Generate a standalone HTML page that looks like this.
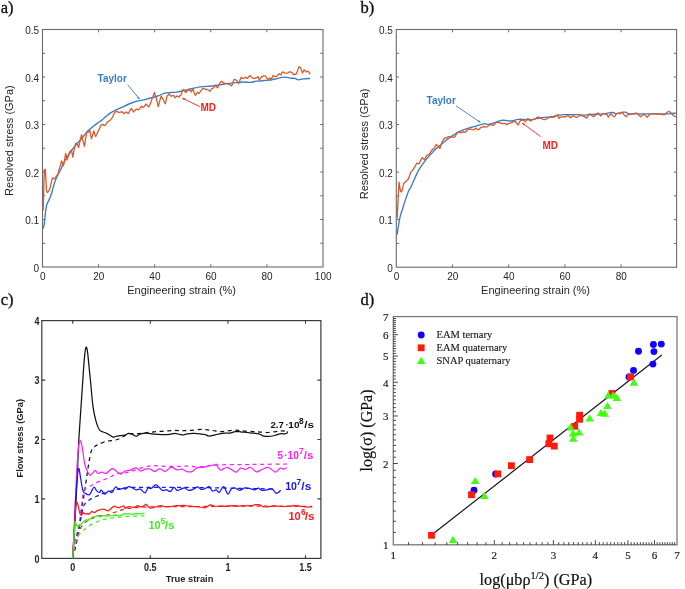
<!DOCTYPE html>
<html><head><meta charset="utf-8"><title>Figure</title>
<style>html,body{margin:0;padding:0;background:#fff;width:685px;height:589px;overflow:hidden}svg{display:block;will-change:transform}</style>
</head><body>
<svg width="685" height="589" viewBox="0 0 685 589">
<rect width="685" height="589" fill="#fff"/>
<text x="0.7" y="12.7" font-family="Liberation Serif, serif" font-size="16.5" fill="#111" stroke="#111" stroke-width="0.35">a)</text>
<text x="360.4" y="12.7" font-family="Liberation Serif, serif" font-size="16.5" fill="#111" stroke="#111" stroke-width="0.35">b)</text>
<text x="0.7" y="304.6" font-family="Liberation Serif, serif" font-size="16.5" fill="#111" stroke="#111" stroke-width="0.35">c)</text>
<text x="360.4" y="304.6" font-family="Liberation Serif, serif" font-size="16.5" fill="#111" stroke="#111" stroke-width="0.35">d)</text>
<rect x="42.5" y="29.5" width="280.5" height="237.5" fill="none" stroke="#6a6a6a" stroke-width="1.1"/>
<path d="M42.5 243.25H45.3 M323 243.25H320.2 M42.5 219.5H45.3 M323 219.5H320.2 M42.5 195.75H45.3 M323 195.75H320.2 M42.5 172H45.3 M323 172H320.2 M42.5 148.25H45.3 M323 148.25H320.2 M42.5 124.5H45.3 M323 124.5H320.2 M42.5 100.75H45.3 M323 100.75H320.2 M42.5 77H45.3 M323 77H320.2 M42.5 53.25H45.3 M323 53.25H320.2 M98.6 267V264.2 M98.6 29.5V32.3 M154.7 267V264.2 M154.7 29.5V32.3 M210.8 267V264.2 M210.8 29.5V32.3 M266.9 267V264.2 M266.9 29.5V32.3 " stroke="#6a6a6a" stroke-width="1" fill="none"/>
<text x="39.1" y="271.6" font-family="Liberation Sans, sans-serif" font-size="10" fill="#262626" text-anchor="end">0</text>
<text x="39.1" y="224.1" font-family="Liberation Sans, sans-serif" font-size="10" fill="#262626" text-anchor="end">0.1</text>
<text x="39.1" y="176.6" font-family="Liberation Sans, sans-serif" font-size="10" fill="#262626" text-anchor="end">0.2</text>
<text x="39.1" y="129.1" font-family="Liberation Sans, sans-serif" font-size="10" fill="#262626" text-anchor="end">0.3</text>
<text x="39.1" y="81.6" font-family="Liberation Sans, sans-serif" font-size="10" fill="#262626" text-anchor="end">0.4</text>
<text x="39.1" y="34.1" font-family="Liberation Sans, sans-serif" font-size="10" fill="#262626" text-anchor="end">0.5</text>
<text x="42.7" y="280.2" font-family="Liberation Sans, sans-serif" font-size="10" fill="#262626" text-anchor="middle">0</text>
<text x="98.8" y="280.2" font-family="Liberation Sans, sans-serif" font-size="10" fill="#262626" text-anchor="middle">20</text>
<text x="154.9" y="280.2" font-family="Liberation Sans, sans-serif" font-size="10" fill="#262626" text-anchor="middle">40</text>
<text x="211" y="280.2" font-family="Liberation Sans, sans-serif" font-size="10" fill="#262626" text-anchor="middle">60</text>
<text x="267.1" y="280.2" font-family="Liberation Sans, sans-serif" font-size="10" fill="#262626" text-anchor="middle">80</text>
<text x="323.2" y="280.2" font-family="Liberation Sans, sans-serif" font-size="10" fill="#262626" text-anchor="middle">100</text>
<text x="181.6" y="293.6" font-family="Liberation Sans, sans-serif" font-size="11" fill="#262626" text-anchor="middle">Engineering strain (%)</text>
<text transform="translate(12.6 140.6) rotate(-90)" font-family="Liberation Sans, sans-serif" font-size="11" fill="#262626" text-anchor="middle">Resolved stress (GPa)</text>
<rect x="396.3" y="29.5" width="280.3" height="237.7" fill="none" stroke="#6a6a6a" stroke-width="1.1"/>
<path d="M396.3 243.43H399.1 M676.6 243.43H673.8 M396.3 219.66H399.1 M676.6 219.66H673.8 M396.3 195.89H399.1 M676.6 195.89H673.8 M396.3 172.12H399.1 M676.6 172.12H673.8 M396.3 148.35H399.1 M676.6 148.35H673.8 M396.3 124.58H399.1 M676.6 124.58H673.8 M396.3 100.81H399.1 M676.6 100.81H673.8 M396.3 77.04H399.1 M676.6 77.04H673.8 M396.3 53.27H399.1 M676.6 53.27H673.8 M452.5 267.2V264.4 M452.5 29.5V32.3 M508.7 267.2V264.4 M508.7 29.5V32.3 M564.9 267.2V264.4 M564.9 29.5V32.3 M621.1 267.2V264.4 M621.1 29.5V32.3 " stroke="#6a6a6a" stroke-width="1" fill="none"/>
<text x="392.9" y="271.8" font-family="Liberation Sans, sans-serif" font-size="10" fill="#262626" text-anchor="end">0</text>
<text x="392.9" y="224.26" font-family="Liberation Sans, sans-serif" font-size="10" fill="#262626" text-anchor="end">0.1</text>
<text x="392.9" y="176.72" font-family="Liberation Sans, sans-serif" font-size="10" fill="#262626" text-anchor="end">0.2</text>
<text x="392.9" y="129.18" font-family="Liberation Sans, sans-serif" font-size="10" fill="#262626" text-anchor="end">0.3</text>
<text x="392.9" y="81.64" font-family="Liberation Sans, sans-serif" font-size="10" fill="#262626" text-anchor="end">0.4</text>
<text x="392.9" y="34.1" font-family="Liberation Sans, sans-serif" font-size="10" fill="#262626" text-anchor="end">0.5</text>
<text x="396.5" y="280.4" font-family="Liberation Sans, sans-serif" font-size="10" fill="#262626" text-anchor="middle">0</text>
<text x="452.7" y="280.4" font-family="Liberation Sans, sans-serif" font-size="10" fill="#262626" text-anchor="middle">20</text>
<text x="508.9" y="280.4" font-family="Liberation Sans, sans-serif" font-size="10" fill="#262626" text-anchor="middle">40</text>
<text x="565.1" y="280.4" font-family="Liberation Sans, sans-serif" font-size="10" fill="#262626" text-anchor="middle">60</text>
<text x="621.3" y="280.4" font-family="Liberation Sans, sans-serif" font-size="10" fill="#262626" text-anchor="middle">80</text>
<text x="535.5" y="293.8" font-family="Liberation Sans, sans-serif" font-size="11" fill="#262626" text-anchor="middle">Engineering strain (%)</text>
<text transform="translate(368.3 143.9) rotate(-90)" font-family="Liberation Sans, sans-serif" font-size="11" fill="#262626" text-anchor="middle">Resolved stress (GPa)</text>
<path d="M43.2 228.7 C43.38 227.85 43.92 226.37 44.3 223.6 C44.68 220.83 45.07 215.33 45.5 212.1 C45.93 208.87 46.25 206.37 46.9 204.2 C47.55 202.03 48.62 200.92 49.4 199.1 C50.18 197.28 50.77 195.95 51.6 193.3 C52.43 190.65 53.45 186.08 54.4 183.2 C55.35 180.32 56.27 178.2 57.3 176 C58.33 173.8 59.43 172.38 60.6 170 C61.77 167.62 62.9 164.32 64.3 161.7 C65.7 159.08 67.43 156.63 69 154.3 C70.57 151.97 72.13 149.73 73.7 147.7 C75.27 145.67 76.85 143.88 78.4 142.1 C79.95 140.32 81.45 138.87 83 137 C84.55 135.13 86.13 132.55 87.7 130.9 C89.27 129.25 90.83 128.35 92.4 127.1 C93.97 125.85 95.55 124.57 97.1 123.4 C98.65 122.23 100.38 121.12 101.7 120.1 C103.02 119.08 103.47 118.53 105 117.3 C106.53 116.07 108.22 114.32 110.9 112.7 C113.58 111.08 117.45 109.3 121.1 107.6 C124.75 105.9 128.67 103.88 132.8 102.5 C136.93 101.12 141.77 100.38 145.9 99.3 C150.03 98.22 154.25 97.08 157.6 96 C160.95 94.92 162.82 93.43 166 92.8 C169.18 92.17 172.97 92.75 176.7 92.2 C180.43 91.65 184.52 90.4 188.4 89.5 C192.28 88.6 196.12 87.38 200 86.8 C203.88 86.22 207.8 86.42 211.7 86 C215.6 85.58 219.5 84.87 223.4 84.3 C227.3 83.73 231.55 82.98 235.1 82.6 C238.65 82.22 242.13 82.03 244.7 82 C247.27 81.97 248.62 82.53 250.5 82.4 C252.38 82.27 254.33 81.43 256 81.2 C257.67 80.97 259.17 81.12 260.5 81 C261.83 80.88 262.55 80.65 264 80.5 C265.45 80.35 267.37 80.35 269.2 80.1 C271.03 79.85 272.47 79.48 275 79 C277.53 78.52 281.87 77.35 284.4 77.2 C286.93 77.05 288.45 77.9 290.2 78.1 C291.95 78.3 293.53 78.12 294.9 78.4 C296.27 78.68 297.03 79.72 298.4 79.8 C299.77 79.88 301.15 79.13 303.1 78.9 C305.05 78.67 308.93 78.48 310.1 78.4" stroke="#3a7cc6" stroke-width="1.35" fill="none" stroke-linejoin="round"/>
<path d="M43.2 210.6 L43.75 189.74 L44.3 169.5 L44.8 169.55 L45.3 169.5 L45.9 179.79 L46.5 190.4 L47 191.62 L47.5 192.6 L48.8 190.6 L50.1 188.3 L51.2 182.73 L52.3 178.2 L53.35 177.97 L54.4 178.9 L55.15 178.2 L55.9 176.7 L56.95 175.31 L58 174.5 L58.6 171.53 L59.2 169.2 L60.35 165.59 L61.5 160.8 L62.45 163.31 L63.4 165.9 L64.55 160 L65.7 153.3 L66.4 156.57 L67.1 159.9 L68.05 156.77 L69 153.3 L70.2 151.23 L71.4 150 L72.15 153.71 L72.9 157.1 L73.3 154.69 L73.7 151.4 L74.65 147.48 L75.6 143.5 L76.3 143.54 L77 143 L77.8 145.56 L78.6 147.7 L80.1 140.63 L81.6 134.6 L82.1 137.26 L82.6 139.3 L83.5 142.91 L84.4 146.3 L85.6 138.81 L86.8 131.8 L87.5 131.49 L88.2 132.3 L89 131.59 L89.8 130 L90.6 134.37 L91.4 138.8 L92.6 135.11 L93.8 130.9 L94.75 134.15 L95.7 136.5 L96.85 134.21 L98 131.4 L99.4 128.86 L100.8 125.3 L101.75 124.67 L102.7 124.3 L103.85 125.31 L105 125.6 L106.5 123.48 L108 121.5 L109.8 120.57 L111.6 118.6 L112.7 116.85 L113.8 114.2 L115.1 112.27 L116.4 111.3 L117.65 111.56 L118.9 112.7 L120.75 112.01 L122.6 112 L123.3 113.31 L124 113.5 L125.1 112.67 L126.2 112 L127.3 112.9 L128.4 113.5 L129.85 110.71 L131.3 108.4 L132.4 110.21 L133.5 112 L134.95 110.41 L136.4 109.1 L137.5 109.27 L138.6 109.8 L140.05 108.1 L141.5 106.2 L142.25 107 L143 107.6 L144.45 106.29 L145.9 104 L147.35 105.67 L148.8 106.9 L150.3 103.76 L151.8 99.6 L153.1 96.38 L154.4 92.3 L155.25 95.44 L156.1 97.4 L157.2 102.21 L158.3 106.6 L159.75 100.9 L161.2 96 L162.3 98.23 L163.4 99.6 L164.35 102.26 L165.3 103.8 L166.05 100.64 L166.8 96.5 L167.95 95.33 L169.1 94 L170.25 95.41 L171.4 96.3 L172.6 95.6 L173.8 95.6 L174.65 97.05 L175.5 97.7 L176.1 96.94 L176.7 96 L177.85 96.29 L179 97.1 L179.9 95.73 L180.8 95.4 L181.65 93.17 L182.5 90.1 L183.1 90.39 L183.7 89.5 L184.55 90.46 L185.4 92.4 L186.6 91.61 L187.8 90.1 L188.65 89.99 L189.5 90.1 L190.4 90.58 L191.3 91.9 L192.15 90.35 L193 89.3 L194.2 92.67 L195.4 95.4 L196.25 94.35 L197.1 92.4 L198 92.45 L198.9 93.6 L200.65 91.39 L202.4 88.9 L203.55 88.35 L204.7 88.9 L205.85 89.46 L207 89.5 L208.5 90.2 L210 91.3 L210.85 90.31 L211.7 88.4 L212.9 88.38 L214.1 87.2 L214.95 86.06 L215.8 84.9 L216.7 86.95 L217.6 87.8 L218.75 85.22 L219.9 83.1 L221.05 81.74 L222.2 81.4 L222.8 82.67 L223.4 83.7 L224.55 83.14 L225.7 83.7 L227.15 83.64 L228.6 84.3 L230.1 85.04 L231.6 86 L232.75 82.93 L233.9 79.6 L235.05 79.49 L236.2 80.2 L237.4 81.4 L238.6 83.7 L239.3 82.34 L240 80.1 L240.6 78.43 L241.2 77.2 L242.05 78.35 L242.9 78.4 L244.1 78.28 L245.3 77.2 L246.45 77.65 L247.6 78.4 L248.75 76.85 L249.9 75.4 L251.1 76.62 L252.3 77.8 L253.75 78.27 L255.2 78.4 L256.65 77.61 L258.1 76.6 L258.7 78.42 L259.3 80.1 L260.45 78.49 L261.6 76.6 L262.5 76.83 L263.4 76 L264.25 75.91 L265.1 75.8 L266.55 77.57 L268 79.5 L268.9 78.91 L269.8 77.8 L270.35 78.64 L270.9 80.1 L272.1 77.51 L273.3 75.4 L274.75 76.57 L276.2 76.6 L277.65 75.18 L279.1 73.7 L280 74.36 L280.9 74.9 L281.75 72.81 L282.6 71.9 L283.5 72.4 L284.4 73.1 L286.15 73.2 L287.9 73.1 L289.05 71.92 L290.2 71.9 L291.1 72.34 L292 72.5 L292.85 73.86 L293.7 74.9 L294.9 74.07 L296.1 74.3 L297.55 70.65 L299 66.7 L299.85 67.21 L300.7 67.8 L301.6 70.67 L302.5 73.1 L303.35 71.17 L304.2 69.6 L305.1 71 L306 71.9 L306.85 71.79 L307.7 71.1 L308.9 72.13 L310.1 74.3" stroke="#d75a2b" stroke-width="1.3" fill="none" stroke-linejoin="round"/>
<text x="97.6" y="81.6" font-family="Liberation Sans, sans-serif" font-size="10" font-weight="bold" fill="#3a7cc6">Taylor</text>
<path d="M127.6 84.6 L139.6 99.3" stroke="#3a7cc6" stroke-width="0.9"/>
<text x="200.4" y="110.8" font-family="Liberation Sans, sans-serif" font-size="10" font-weight="bold" fill="#ff1e1e">MD</text>
<path d="M199.9 106.6 L182.3 98.2" stroke="#ff1e1e" stroke-width="0.9"/>
<path d="M397.1 234.7 C397.35 233.05 398.05 227.98 398.6 224.8 C399.15 221.62 399.77 218.15 400.4 215.6 C401.03 213.05 401.68 211.78 402.4 209.5 C403.12 207.22 403.68 204.95 404.7 201.9 C405.72 198.85 407.48 193.62 408.5 191.2 C409.52 188.78 409.92 189.18 410.8 187.4 C411.68 185.62 412.53 183.3 413.8 180.5 C415.07 177.7 416.87 173.4 418.4 170.6 C419.93 167.8 421.47 165.87 423 163.7 C424.53 161.53 426.23 159.25 427.6 157.6 C428.97 155.95 429.83 155.22 431.2 153.8 C432.57 152.38 434.05 150.75 435.8 149.1 C437.55 147.45 439.75 145.55 441.7 143.9 C443.65 142.25 445.55 140.67 447.5 139.2 C449.45 137.73 451.45 136.37 453.4 135.1 C455.35 133.83 457.27 132.57 459.2 131.6 C461.13 130.63 463.05 129.98 465 129.3 C466.95 128.62 468.95 128.08 470.9 127.5 C472.85 126.92 474.57 126.42 476.7 125.8 C478.83 125.18 481.75 124.05 483.7 123.8 C485.65 123.55 486.83 124.4 488.4 124.3 C489.97 124.2 491.15 123.82 493.1 123.2 C495.05 122.58 498.17 121.08 500.1 120.6 C502.03 120.12 502.78 120.23 504.7 120.3 C506.62 120.37 509.37 121.15 511.6 121 C513.83 120.85 515.92 119.67 518.1 119.4 C520.28 119.13 522.5 119.35 524.7 119.4 C526.9 119.45 529.12 119.87 531.3 119.7 C533.48 119.53 535.62 118.8 537.8 118.4 C539.98 118 542.2 117.57 544.4 117.3 C546.6 117.03 548.8 117.1 551 116.8 C553.2 116.5 555.42 115.85 557.6 115.5 C559.78 115.15 561.92 114.83 564.1 114.7 C566.28 114.57 568.5 114.7 570.7 114.7 C572.9 114.7 575.12 114.63 577.3 114.7 C579.48 114.77 581.62 115.13 583.8 115.1 C585.98 115.07 587.18 114.72 590.4 114.5 C593.62 114.28 600 114.08 603.1 113.8 C606.2 113.52 607.35 113.02 609 112.8 C610.65 112.58 611.78 112.33 613 112.5 C614.22 112.67 614.97 113.78 616.3 113.8 C617.63 113.82 619.47 112.88 621 112.6 C622.53 112.32 624.1 111.9 625.5 112.1 C626.9 112.3 626.55 113.52 629.4 113.8 C632.25 114.08 638.22 113.8 642.6 113.8 C646.98 113.8 651.33 113.8 655.7 113.8 C660.07 113.8 665.42 113.92 668.8 113.8 C672.18 113.68 674.8 113.22 676 113.1" stroke="#3a7cc6" stroke-width="1.35" fill="none" stroke-linejoin="round"/>
<path d="M397.1 218.7 L397.7 207.37 L398.3 195.8 L398.65 189.19 L399 182.1 L399.7 186.6 L400.4 190.5 L401 191.69 L401.6 192 L402.75 187.64 L403.9 182.8 L405.05 182.47 L406.2 181.3 L407.35 179.68 L408.5 179 L409.65 175.52 L410.8 172.1 L412.3 170.64 L413.8 168.3 L415.35 165.8 L416.9 163 L418.05 163.75 L419.2 163.7 L420.7 160.26 L422.2 157.6 L423.35 158.72 L424.5 159.9 L425.65 157.35 L426.8 155.3 L427.65 154.94 L428.5 154.5 L429.25 153.92 L430 153.2 L431.15 150.96 L432.3 149.7 L433.2 148.82 L434.1 148.5 L435.25 146.28 L436.4 144.5 L437.3 145.77 L438.2 146.2 L439.05 147.62 L439.9 148.5 L441.1 144.66 L442.3 141.5 L443.15 140.35 L444 138.6 L445.2 137.94 L446.4 138 L447.25 137.42 L448.1 136.6 L449.25 136.63 L450.4 137.4 L451.9 136.9 L453.4 137.4 L454.25 137.22 L455.1 136.3 L456.55 133.96 L458 132.2 L459.45 132.22 L460.9 132.8 L462.1 132.68 L463.3 131.6 L464.45 132.27 L465.6 132.2 L467.05 130.24 L468.5 128.7 L470 129.46 L471.5 129.3 L472.65 129.64 L473.8 129.9 L474.65 129.18 L475.5 128.1 L476.7 128.7 L477.9 129.9 L479.35 129.14 L480.8 127.5 L482.25 127.14 L483.7 126.4 L484.9 127.12 L486.1 126.9 L487.25 126.74 L488.4 125.8 L489.55 125 L490.7 124.6 L492.15 124.86 L493.6 125.4 L495.1 123.52 L496.6 122.3 L497.75 122.1 L498.9 122.6 L500.35 122.77 L501.8 123.8 L503.25 123.4 L504.7 123.4 L505.85 124.15 L507 124.7 L508.3 123.55 L509.6 123.4 L510.9 123.03 L512.2 122.3 L513.55 121.64 L514.9 121.3 L516.5 122.96 L518.1 125 L519.1 123.22 L520.1 120.8 L521.4 120.38 L522.7 120 L524.05 120.67 L525.4 121.7 L526.7 120.03 L528 118.4 L529.3 119.9 L530.6 121 L532.25 119.76 L533.9 119.4 L535.55 118.73 L537.2 117.1 L539.15 117.27 L541.1 118.4 L542.75 119.3 L544.4 119.7 L546.4 119.04 L548.4 117.7 L550.35 117.02 L552.3 117.3 L553.95 117.14 L555.6 116.4 L556.6 115.42 L557.6 114.7 L558.25 116.63 L558.9 118.4 L560.2 117.26 L561.5 117.1 L563.45 116.65 L565.4 117.1 L566.75 115.98 L568.1 115.5 L569.4 117.06 L570.7 117.7 L572 116.45 L573.3 115.8 L574.95 116.81 L576.6 117.3 L578.25 116.63 L579.9 115.1 L581.2 115.74 L582.5 115.5 L584.5 116.64 L586.5 118.1 L588.1 115.8 L589.7 113.8 L591.5 115.32 L593.3 116.8 L595.6 115.13 L597.9 112.9 L599.2 114.06 L600.5 116 L601.8 114.95 L603.1 113.4 L605.1 114.25 L607.1 114.5 L607.75 116.16 L608.4 117.1 L609.7 114.99 L611 113.8 L612.65 115.75 L614.3 116.8 L615.95 114.54 L617.6 113.1 L618.9 113.29 L620.2 113.8 L621.2 113.06 L622.2 112.1 L624.15 114.87 L626.1 116.8 L627.45 115.34 L628.8 114.2 L630.4 114.42 L632 113.8 L634.3 113.5 L636.6 113.1 L638.6 114.76 L640.6 116.8 L642.25 115.32 L643.9 114.2 L645.55 115.43 L647.2 117.3 L648.8 115.33 L650.4 114.2 L652.4 113.65 L654.4 113.8 L657 113.99 L659.6 113.8 L662.25 114.65 L664.9 114.5 L666.85 112.51 L668.8 111.2 L670.45 112.25 L672.1 114.2 L674 115.99 L675.9 116.8" stroke="#d75a2b" stroke-width="1.3" fill="none" stroke-linejoin="round"/>
<text x="426.6" y="103.6" font-family="Liberation Sans, sans-serif" font-size="10" font-weight="bold" fill="#3a7cc6">Taylor</text>
<path d="M456 105.8 L480.4 122.4" stroke="#3a7cc6" stroke-width="0.9"/>
<text x="542.5" y="149.3" font-family="Liberation Sans, sans-serif" font-size="10" font-weight="bold" fill="#ff1e1e">MD</text>
<path d="M540.6 136.6 L522.1 123" stroke="#ff1e1e" stroke-width="0.9"/>
<path d="M139.6 99.3L137.1 97.98L138.81 96.59Z" fill="#3a7cc6"/>
<path d="M182.3 98.2L185.12 98.33L184.17 100.31Z" fill="#ff1e1e"/>
<path d="M480.4 122.4L477.63 121.85L478.87 120.03Z" fill="#3a7cc6"/>
<path d="M522.1 123L524.85 123.65L523.54 125.43Z" fill="#ff1e1e"/>
<rect x="41.8" y="320.6" width="279.1" height="237.8" fill="none" stroke="#3a3a3a" stroke-width="1.2"/>
<path d="M72.7 558.4V555.2 M72.7 320.6V323.8 M150.3 558.4V555.2 M150.3 320.6V323.8 M227.9 558.4V555.2 M227.9 320.6V323.8 M305.5 558.4V555.2 M305.5 320.6V323.8 M41.8 498.9H45.2 M320.9 498.9H317.5 M41.8 439.5H45.2 M320.9 439.5H317.5 M41.8 380.1H45.2 M320.9 380.1H317.5 " stroke="#3a3a3a" stroke-width="1.1" fill="none"/>
<text transform="translate(39.6 562.6) scale(0.9 1)" font-family="Liberation Sans, sans-serif" font-size="10" font-weight="bold" fill="#222" text-anchor="end">0</text>
<text transform="translate(39.6 503.2) scale(0.9 1)" font-family="Liberation Sans, sans-serif" font-size="10" font-weight="bold" fill="#222" text-anchor="end">1</text>
<text transform="translate(39.6 443.8) scale(0.9 1)" font-family="Liberation Sans, sans-serif" font-size="10" font-weight="bold" fill="#222" text-anchor="end">2</text>
<text transform="translate(39.6 384.4) scale(0.9 1)" font-family="Liberation Sans, sans-serif" font-size="10" font-weight="bold" fill="#222" text-anchor="end">3</text>
<text transform="translate(39.6 325) scale(0.9 1)" font-family="Liberation Sans, sans-serif" font-size="10" font-weight="bold" fill="#222" text-anchor="end">4</text>
<text transform="translate(72.7 570.5) scale(0.9 1)" font-family="Liberation Sans, sans-serif" font-size="10" font-weight="bold" fill="#222" text-anchor="middle">0</text>
<text transform="translate(150.3 570.5) scale(0.9 1)" font-family="Liberation Sans, sans-serif" font-size="10" font-weight="bold" fill="#222" text-anchor="middle">0.5</text>
<text transform="translate(227.9 570.5) scale(0.9 1)" font-family="Liberation Sans, sans-serif" font-size="10" font-weight="bold" fill="#222" text-anchor="middle">1</text>
<text transform="translate(305.5 570.5) scale(0.9 1)" font-family="Liberation Sans, sans-serif" font-size="10" font-weight="bold" fill="#222" text-anchor="middle">1.5</text>
<text x="189.6" y="581.5" font-family="Liberation Sans, sans-serif" font-size="9.3" font-weight="bold" fill="#222" text-anchor="middle">True strain</text>
<text transform="translate(23.4 438.2) rotate(-90)" font-family="Liberation Sans, sans-serif" font-size="9.3" font-weight="bold" fill="#222" text-anchor="middle">Flow stress (GPa)</text>
<path d="M72.7 558.3 C73.25 556.08 74.95 549.72 76 545 C77.05 540.28 78.05 536.2 79 530 C79.95 523.8 80.97 512.98 81.7 507.8 C82.43 502.62 82.82 502.37 83.4 498.9 C83.98 495.43 84.6 490.97 85.2 487 C85.8 483.03 86.4 479.05 87 475.1 C87.6 471.15 88.1 467.25 88.8 463.3 C89.5 459.35 90.22 454.18 91.2 451.4 C92.18 448.62 93.42 447.78 94.7 446.6 C95.98 445.42 97.02 445.18 98.9 444.3 C100.78 443.42 103.63 441.93 106 441.3 C108.37 440.67 110.77 440.97 113.1 440.5 C115.43 440.03 117.4 439.62 120 438.5 C122.6 437.38 125.8 434.58 128.7 433.8 C131.6 433.02 134.3 434.02 137.4 433.8 C140.5 433.58 144.2 432.85 147.3 432.5 C150.4 432.15 152.88 431.97 156 431.7 C159.12 431.43 162.9 431.12 166 430.9 C169.1 430.68 171.72 430.43 174.6 430.4 C177.48 430.37 180.6 430.7 183.3 430.7 C186 430.7 187.9 430.62 190.8 430.4 C193.7 430.18 197.9 429.48 200.7 429.4 C203.5 429.32 205.57 429.72 207.6 429.9 C209.63 430.08 210.92 430.22 212.9 430.5 C214.88 430.78 217.32 431.48 219.5 431.6 C221.68 431.72 223.82 431.43 226 431.2 C228.18 430.97 230.4 430.32 232.6 430.2 C234.8 430.08 237.02 430.33 239.2 430.5 C241.38 430.67 243.3 431.02 245.7 431.2 C248.1 431.38 251.18 431.45 253.6 431.6 C256.02 431.75 257.78 431.95 260.2 432.1 C262.62 432.25 265.47 432.58 268.1 432.5 C270.73 432.42 273.82 431.88 276 431.6 C278.18 431.32 279.45 430.87 281.2 430.8 C282.95 430.73 285.62 431.13 286.5 431.2" stroke="#111" stroke-width="1.25" fill="none" stroke-linejoin="round" stroke-dasharray="4 3.6"/>
<path d="M72.7 558.3 C73.25 555.25 74.8 546.43 76 540 C77.2 533.57 78.85 526.55 79.9 519.7 C80.95 512.85 81.52 503.95 82.3 498.9 C83.08 493.85 83.02 491.68 84.6 489.4 C86.18 487.12 89.22 486.58 91.8 485.2 C94.38 483.82 97.13 482.38 100.1 481.1 C103.07 479.82 106.83 478.78 109.6 477.5 C112.37 476.22 114.13 474.17 116.7 473.4 C119.27 472.63 122.38 473.3 125 472.9 C127.62 472.5 129.3 471.93 132.4 471 C135.5 470.07 140.28 468.18 143.6 467.3 C146.92 466.42 149.4 465.9 152.3 465.7 C155.2 465.5 157.9 465.98 161 466.1 C164.1 466.22 167.8 466.35 170.9 466.4 C174 466.45 176.6 466.45 179.6 466.4 C182.6 466.35 185.8 466.02 188.9 466.1 C192 466.18 194.68 466.97 198.2 466.9 C201.72 466.83 206.03 466.05 210 465.7 C213.97 465.35 217 464.98 222 464.8 C227 464.62 233.67 464.67 240 464.6 C246.33 464.53 252.17 464.5 260 464.4 C267.83 464.3 282.5 464.07 287 464" stroke="#ff1fff" stroke-width="1.25" fill="none" stroke-linejoin="round" stroke-dasharray="4 3.6"/>
<path d="M72.7 558.3 C73.08 556.08 74.3 548.87 75 545 C75.7 541.13 76.08 538.72 76.9 535.1 C77.72 531.48 78.82 528.05 79.9 523.3 C80.98 518.55 82.22 510.17 83.4 506.6 C84.58 503.03 85.6 503.28 87 501.9 C88.4 500.52 90.02 499.3 91.8 498.3 C93.58 497.3 95.92 496.68 97.7 495.9 C99.48 495.12 99.62 494.58 102.5 493.6 C105.38 492.62 111.25 490.97 115 490 C118.75 489.03 119.17 488.25 125 487.8 C130.83 487.35 137.5 487.33 150 487.3 C162.5 487.27 183.33 487.4 200 487.6 C216.67 487.8 237.5 488.27 250 488.5 C262.5 488.73 270.83 488.92 275 489" stroke="#1414ff" stroke-width="1.25" fill="none" stroke-linejoin="round" stroke-dasharray="4 3.6"/>
<path d="M72.7 558.3 C72.9 556.82 73.3 552.47 73.9 549.4 C74.5 546.33 75.5 542.87 76.3 539.9 C77.1 536.93 77.7 533.98 78.7 531.6 C79.7 529.22 80.92 527.38 82.3 525.6 C83.68 523.82 85.42 522.08 87 520.9 C88.58 519.72 90.02 519.3 91.8 518.5 C93.58 517.7 95.13 516.68 97.7 516.1 C100.27 515.52 104.23 515.68 107.2 515 C110.17 514.32 112.03 513.08 115.5 512 C118.97 510.92 122.25 509.33 128 508.5 C133.75 507.67 138 507.33 150 507 C162 506.67 183.33 506.67 200 506.5 C216.67 506.33 231.33 506 250 506 C268.67 506 301.67 506.42 312 506.5" stroke="#ff1a1a" stroke-width="1.25" fill="none" stroke-linejoin="round" stroke-dasharray="4 3.6"/>
<path d="M72.7 558.3 C73.1 555.83 74.1 547.37 75.1 543.5 C76.1 539.63 77.32 537.28 78.7 535.1 C80.08 532.92 81.62 531.98 83.4 530.4 C85.18 528.82 87.02 527.08 89.4 525.6 C91.78 524.12 95.1 522.57 97.7 521.5 C100.3 520.43 102.28 519.82 105 519.2 C107.72 518.58 111 518.22 114 517.8 C117 517.38 120.17 516.95 123 516.7 C125.83 516.45 128.17 516.42 131 516.3 C133.83 516.18 137.77 516.08 140 516 C142.23 515.92 143.67 515.83 144.4 515.8" stroke="#3ef01e" stroke-width="1.25" fill="none" stroke-linejoin="round" stroke-dasharray="4 3.6"/>
<path d="M72.7 558.3 C73.08 551.92 74.2 534.72 75 520 C75.8 505.28 76.87 483.27 77.5 470 C78.13 456.73 78.22 450.85 78.8 440.4 C79.38 429.95 80.27 418.33 81 407.3 C81.73 396.27 82.6 382.75 83.2 374.2 C83.8 365.65 84.13 360.5 84.6 356 C85.07 351.5 85.53 348.03 86 347.2 C86.47 346.37 86.95 348.35 87.4 351 C87.85 353.65 88.12 357.4 88.7 363.1 C89.28 368.8 90.17 377.83 90.9 385.2 C91.63 392.57 92.18 401.05 93.1 407.3 C94.02 413.55 95.33 418.92 96.4 422.7 C97.47 426.48 98.48 428.48 99.5 430 C100.52 431.52 101.22 431.2 102.5 431.8 C103.78 432.4 105.43 432.72 107.2 433.6 C108.97 434.48 111.72 436.62 113.1 437.1 C114.48 437.58 114.3 436.73 115.5 436.5 C116.7 436.27 118.72 435.95 120.3 435.7 C121.88 435.45 123.6 435.38 125 435 C126.4 434.62 127.47 433.5 128.7 433.4 C129.93 433.3 131.15 433.92 132.4 434.4 C133.65 434.88 134.95 436.33 136.2 436.3 C137.45 436.27 138.25 434.72 139.9 434.2 C141.55 433.68 143.83 433.2 146.1 433.2 C148.37 433.2 150.82 433.95 153.5 434.2 C156.18 434.45 159.5 434.67 162.2 434.7 C164.9 434.73 167.63 434.62 169.7 434.4 C171.77 434.18 172.95 433.4 174.6 433.4 C176.25 433.4 178.15 434.13 179.6 434.4 C181.05 434.67 182.07 435.1 183.3 435 C184.53 434.9 185.13 434.07 187 433.8 C188.87 433.53 192.02 433.33 194.5 433.4 C196.98 433.47 200.15 434.02 201.9 434.2 C203.65 434.38 203.83 434.2 205 434.5 C206.17 434.8 207.37 435.9 208.9 436 C210.43 436.1 212.43 435.47 214.2 435.1 C215.97 434.73 217.75 434.13 219.5 433.8 C221.25 433.47 222.95 433.22 224.7 433.1 C226.45 432.98 228.25 433.35 230 433.1 C231.75 432.85 233.45 431.82 235.2 431.6 C236.95 431.38 238.53 431.65 240.5 431.8 C242.47 431.95 244.82 432.28 247 432.5 C249.18 432.72 251.62 432.88 253.6 433.1 C255.58 433.32 257.37 433.35 258.9 433.8 C260.43 434.25 261.27 435.37 262.8 435.8 C264.33 436.23 266.13 436.45 268.1 436.4 C270.07 436.35 272.63 435.93 274.6 435.5 C276.57 435.07 278.15 434.08 279.9 433.8 C281.65 433.52 283.9 433.92 285.1 433.8 C286.3 433.68 286.73 433.5 287.1 433.1 C287.47 432.7 287.27 431.68 287.3 431.4" stroke="#111" stroke-width="1.25" fill="none" stroke-linejoin="round"/>
<path d="M72.7 558.3 C73 551.92 73.8 534.85 74.5 520 C75.2 505.15 76.23 481.2 76.9 469.2 C77.57 457.2 78 452.75 78.5 448 C79 443.25 79.45 441.53 79.9 440.7 C80.35 439.87 80.8 441.82 81.2 443 C81.6 444.18 81.73 444.42 82.3 447.8 C82.87 451.18 83.82 459.53 84.6 463.3 C85.38 467.07 86.1 468.43 87 470.4 C87.9 472.37 89.1 474.6 90 475.1 C90.9 475.6 91.52 474.18 92.4 473.4 C93.28 472.62 94.42 470.4 95.3 470.4 C96.18 470.4 96.6 473.1 97.7 473.4 C98.8 473.7 100.52 472.2 101.9 472.2 C103.28 472.2 104.32 474 106 473.4 C107.68 472.8 110.42 469.1 112 468.6 C113.58 468.1 114.12 469.5 115.5 470.4 C116.88 471.3 118.72 473.9 120.3 474 C121.88 474.1 123.38 471.63 125 471 C126.62 470.37 128.13 470.72 130 470.2 C131.87 469.68 134.45 467.77 136.2 467.9 C137.95 468.03 139.05 470.78 140.5 471 C141.95 471.22 143.35 469.55 144.9 469.2 C146.45 468.85 148.15 468.53 149.8 468.9 C151.45 469.27 153.15 471.47 154.8 471.4 C156.45 471.33 157.95 468.5 159.7 468.5 C161.45 468.5 163.43 471.6 165.3 471.4 C167.17 471.2 168.93 467.57 170.9 467.3 C172.87 467.03 175.23 469.48 177.1 469.8 C178.97 470.12 180.45 468.9 182.1 469.2 C183.75 469.5 185.35 471.2 187 471.6 C188.65 472 190.33 472.22 192 471.6 C193.67 470.98 195.13 468.62 197 467.9 C198.87 467.18 200.95 467.7 203.2 467.3 C205.45 466.9 208.62 465.9 210.5 465.5 C212.38 465.1 213.52 465.12 214.5 464.9 C215.48 464.68 215.87 463.88 216.4 464.2 C216.93 464.52 216.93 465.82 217.7 466.8 C218.47 467.78 219.57 469.98 221 470.1 C222.43 470.22 224.55 467.6 226.3 467.5 C228.05 467.4 229.87 468.73 231.5 469.5 C233.13 470.27 234.57 472.33 236.1 472.1 C237.63 471.87 239.17 468.53 240.7 468.1 C242.23 467.67 243.65 469.6 245.3 469.5 C246.95 469.4 248.73 467.12 250.6 467.5 C252.47 467.88 254.63 471.47 256.5 471.8 C258.37 472.13 259.83 470.22 261.8 469.5 C263.77 468.78 266.02 467.07 268.3 467.5 C270.58 467.93 273.53 472 275.5 472.1 C277.47 472.2 278.67 468.58 280.1 468.1 C281.53 467.62 283 469.3 284.1 469.2 C285.2 469.1 286.27 467.78 286.7 467.5" stroke="#ff1fff" stroke-width="1.25" fill="none" stroke-linejoin="round"/>
<path d="M72.7 558.3 C73 553.58 74 539.9 74.5 530 C75 520.1 75.25 507.57 75.7 498.9 C76.15 490.23 76.73 483.05 77.2 478 C77.67 472.95 78.12 469.77 78.5 468.6 C78.88 467.43 79.17 469.52 79.5 471 C79.83 472.48 79.93 474.23 80.5 477.5 C81.07 480.77 82.02 487.92 82.9 490.6 C83.78 493.28 84.72 492.9 85.8 493.6 C86.88 494.3 88.4 495.3 89.4 494.8 C90.4 494.3 91.02 491.9 91.8 490.6 C92.58 489.3 93.32 487 94.1 487 C94.88 487 95.6 489.7 96.5 490.6 C97.4 491.5 98.7 492.5 99.5 492.4 C100.3 492.3 100.42 489.7 101.3 490 C102.18 490.3 103.62 494 104.8 494.2 C105.98 494.4 107.2 491.5 108.4 491.2 C109.6 490.9 110.82 493.1 112 492.4 C113.18 491.7 114.32 487.5 115.5 487 C116.68 486.5 117.72 489.2 119.1 489.4 C120.48 489.6 122.82 488.23 123.8 488.2 C124.78 488.17 124.18 489.45 125 489.2 C125.82 488.95 127.47 486.92 128.7 486.7 C129.93 486.48 131.15 487.38 132.4 487.9 C133.65 488.42 134.85 489.58 136.2 489.8 C137.55 490.02 139.05 488.68 140.5 489.2 C141.95 489.72 143.65 493.12 144.9 492.9 C146.15 492.68 146.97 488.63 148 487.9 C149.03 487.17 149.87 489.02 151.1 488.5 C152.33 487.98 154.17 485.1 155.4 484.8 C156.63 484.5 157.37 485.77 158.5 486.7 C159.63 487.63 160.85 489.88 162.2 490.4 C163.55 490.92 165.25 489.6 166.6 489.8 C167.95 490 169.07 492.02 170.3 491.6 C171.53 491.18 172.87 487.5 174 487.3 C175.13 487.1 175.97 490.08 177.1 490.4 C178.23 490.72 179.55 489.62 180.8 489.2 C182.05 488.78 183.25 487.7 184.6 487.9 C185.95 488.1 187.47 490.18 188.9 490.4 C190.33 490.62 191.75 489.78 193.2 489.2 C194.65 488.62 196.25 486.87 197.6 486.9 C198.95 486.93 200.07 489.13 201.3 489.4 C202.53 489.67 203.67 488.95 205 488.5 C206.33 488.05 208.07 486.28 209.3 486.7 C210.53 487.12 211.25 490.48 212.4 491 C213.55 491.52 215.05 489.58 216.2 489.8 C217.35 490.02 218.07 492.82 219.3 492.3 C220.53 491.78 222.15 486.4 223.6 486.7 C225.05 487 226.75 493.68 228 494.1 C229.25 494.52 229.97 490.23 231.1 489.2 C232.23 488.17 233.37 487.7 234.8 487.9 C236.23 488.1 238.05 490.4 239.7 490.4 C241.35 490.4 243.03 488.22 244.7 487.9 C246.37 487.58 248.05 488.18 249.7 488.5 C251.35 488.82 253.17 489.85 254.6 489.8 C256.03 489.75 257.05 488.1 258.3 488.2 C259.55 488.3 260.65 490.13 262.1 490.4 C263.55 490.67 265.35 490.05 267 489.8 C268.65 489.55 270.55 488.38 272 488.9 C273.45 489.42 274.67 492.28 275.7 492.9 C276.73 493.52 277.37 493.05 278.2 492.6 C279.03 492.15 280.28 490.6 280.7 490.2" stroke="#1414ff" stroke-width="1.25" fill="none" stroke-linejoin="round"/>
<path d="M72.7 558.3 L74.5 525 L75.15 515.46 L75.8 506 L76.35 503.82 L76.9 501.9 L77.8 504.49 L78.7 507.8 L79.3 511.17 L79.9 513.8 L80.5 514.16 L81.1 515.5 L82.25 514.05 L83.4 512.6 L84.6 513.6 L85.8 513.8 L87.3 513.68 L88.8 514.4 L90.3 512.95 L91.8 511.4 L93.25 512.12 L94.7 512.6 L96.8 510.94 L98.9 510.2 L101.25 509.48 L103.6 509 L106 510.1 L108.4 510.8 L111.35 508.35 L114.3 506 L116.7 507.13 L119.1 507.8 L121.45 506.56 L123.8 506 L124.4 506.94 L125 508.4 L127.1 507.11 L129.2 506.6 L131.25 507.01 L133.3 507.4 L135.4 506.92 L137.5 505.6 L139.55 506.39 L141.6 507 L143.7 505.87 L145.8 504.2 L147.55 505.83 L149.3 507.7 L151 508.1 L152.7 508 L154.8 506.9 L156.9 506.6 L159 505.89 L161.1 505.6 L163.85 506.27 L166.6 506.6 L170.05 506.53 L173.5 506 L177 505.72 L180.5 505.6 L183.95 505.39 L187.4 506 L190.85 506.07 L194.3 506.6 L197.1 506.51 L199.9 507 L202.35 507.28 L204.8 508 L207.2 506.76 L209.6 504.9 L211.7 505.15 L213.8 506 L218.15 506.49 L222.5 506.2 L226.25 506.38 L230 505.8 L233.8 505.55 L237.6 506.2 L241.35 505.88 L245.1 505.8 L248.85 505.54 L252.6 505.3 L256 504.52 L259.4 504.7 L261.25 505.67 L263.1 506.8 L267.6 506.91 L272.1 506.2 L275.9 505.96 L279.7 506.5 L284.95 506.45 L290.2 506.2 L293.95 505.62 L297.7 505.8 L301.45 506.38 L305.2 506.8 L308.2 507.05 L311.2 506.5 L311.6 506.8 L312 507.7" stroke="#ff1a1a" stroke-width="1.25" fill="none" stroke-linejoin="round"/>
<path d="M72.7 558.3 C72.88 555.25 73.4 546.13 73.8 540 C74.2 533.87 74.88 524.58 75.1 521.5" stroke="#3ef01e" stroke-width="1.25" fill="none" stroke-linejoin="round"/>
<path d="M75.1 521.5 L75.55 522.04 L76 523.92 L76.45 524.94 L76.9 525.6 L77.35 526.6 L77.8 525.57 L78.25 525.96 L78.7 526.8 L79.3 525.52 L79.9 525.1 L80.5 525.54 L81.1 524.5 L81.97 522.86 L82.85 522.76 L83.72 521.23 L84.6 520.9 L85.8 520.04 L87 519.86 L88.2 520.23 L89.4 519.1 L90.88 518.72 L92.35 516.93 L93.83 516.85 L95.3 516.7 L97.38 515.69 L99.45 516.84 L101.52 516.42 L103.6 515.5 L106.57 515.99 L109.55 515.9 L112.53 515.61 L115.5 515 L118.62 515.6 L121.75 514.99 L124.88 513.61 L128 513.8 L132.1 514.35 L136.2 513.47 L140.3 513.86 L144.4 513.2" stroke="#3ef01e" stroke-width="1.35" fill="none" stroke-linejoin="round"/>
<text x="270.4" y="428.1" font-family="Liberation Sans, sans-serif" font-size="9.6" font-weight="bold" fill="#111">2.7</text>
<text x="285.5" y="428.1" font-family="Liberation Sans, sans-serif" font-size="9.6" font-weight="bold" fill="#111">&#183;</text>
<text transform="translate(288.3 428.1) scale(1.05 1)" font-family="Liberation Sans, sans-serif" font-size="9.6" font-weight="bold" fill="#111">10</text>
<text x="299.1" y="424.1" font-family="Liberation Sans, sans-serif" font-size="8.4" font-weight="bold" fill="#111">8</text>
<text transform="translate(304.3 428.1) scale(1.22 1)" font-family="Liberation Sans, sans-serif" font-size="9.6" font-weight="bold" fill="#111">/s</text>
<text x="277.4" y="459.2" font-family="Liberation Sans, sans-serif" font-size="10" font-weight="bold" fill="#ff1fff">5</text>
<text x="284.2" y="459.2" font-family="Liberation Sans, sans-serif" font-size="10" font-weight="bold" fill="#ff1fff">&#183;</text>
<text transform="translate(287.5 459.2) scale(1.02 1)" font-family="Liberation Sans, sans-serif" font-size="10" font-weight="bold" fill="#ff1fff">10</text>
<text x="299" y="454.3" font-family="Liberation Sans, sans-serif" font-size="8.4" font-weight="bold" fill="#ff1fff">7</text>
<text transform="translate(303.7 459.2) scale(1.15 1)" font-family="Liberation Sans, sans-serif" font-size="10" font-weight="bold" fill="#ff1fff">/s</text>
<text transform="translate(285.2 489.9) scale(1.03 1)" font-family="Liberation Sans, sans-serif" font-size="10.3" font-weight="bold" fill="#1414ff">10</text>
<text x="296.6" y="485" font-family="Liberation Sans, sans-serif" font-size="8.4" font-weight="bold" fill="#1414ff">7</text>
<text transform="translate(301.3 489.9) scale(1.17 1)" font-family="Liberation Sans, sans-serif" font-size="10.3" font-weight="bold" fill="#1414ff">/s</text>
<text transform="translate(288.4 519.9) scale(1.08 1)" font-family="Liberation Sans, sans-serif" font-size="10.2" font-weight="bold" fill="#ff1a1a">10</text>
<text x="300.9" y="514.8" font-family="Liberation Sans, sans-serif" font-size="8.4" font-weight="bold" fill="#ff1a1a">6</text>
<text transform="translate(304.7 519.9) scale(1.16 1)" font-family="Liberation Sans, sans-serif" font-size="10.2" font-weight="bold" fill="#ff1a1a">/s</text>
<text transform="translate(148.4 529) scale(1.08 1)" font-family="Liberation Sans, sans-serif" font-size="10.2" font-weight="bold" fill="#3ef01e">10</text>
<text x="160.4" y="524" font-family="Liberation Sans, sans-serif" font-size="8.4" font-weight="bold" fill="#3ef01e">5</text>
<text transform="translate(164.7 529) scale(1.16 1)" font-family="Liberation Sans, sans-serif" font-size="10.2" font-weight="bold" fill="#3ef01e">/s</text>
<rect x="393.3" y="316.6" width="283.7" height="228.2" fill="none" stroke="#7a7a7a" stroke-width="1.3"/>
<path d="M408.57 544.8V542.2 M393.3 532.45H395.9 M422.47 544.8V542.2 M393.3 521.27H395.9 M435.15 544.8V542.2 M393.3 511.07H395.9 M446.83 544.8V542.2 M393.3 501.68H395.9 M457.64 544.8V542.2 M393.3 492.99H395.9 M467.7 544.8V542.2 M393.3 484.9H395.9 M477.11 544.8V542.2 M393.3 477.33H395.9 M485.95 544.8V542.2 M393.3 470.22H395.9 M494.29 544.8V540.2 M393.3 463.52H397.9 M502.17 544.8V542.2 M393.3 457.18H395.9 M509.65 544.8V542.2 M393.3 451.17H395.9 M516.77 544.8V542.2 M393.3 445.45H395.9 M523.55 544.8V542.2 M393.3 439.99H395.9 M530.03 544.8V542.2 M393.3 434.78H395.9 M536.24 544.8V542.2 M393.3 429.79H395.9 M542.19 544.8V542.2 M393.3 425H395.9 M547.91 544.8V542.2 M393.3 420.4H395.9 M553.42 544.8V540.2 M393.3 415.98H397.9 M558.72 544.8V542.2 M393.3 411.71H395.9 M563.84 544.8V542.2 M393.3 407.6H395.9 M568.78 544.8V542.2 M393.3 403.62H395.9 M573.56 544.8V542.2 M393.3 399.78H395.9 M578.19 544.8V542.2 M393.3 396.05H395.9 M582.68 544.8V542.2 M393.3 392.45H395.9 M587.04 544.8V542.2 M393.3 388.95H395.9 M591.26 544.8V542.2 M393.3 385.55H395.9 M595.37 544.8V540.2 M393.3 382.24H397.9 M599.37 544.8V542.2 M393.3 379.03H395.9 M603.26 544.8V542.2 M393.3 375.9H395.9 M607.04 544.8V542.2 M393.3 372.86H395.9 M610.74 544.8V542.2 M393.3 369.89H395.9 M614.34 544.8V542.2 M393.3 366.99H395.9 M617.85 544.8V542.2 M393.3 364.17H395.9 M621.28 544.8V542.2 M393.3 361.41H395.9 M624.64 544.8V542.2 M393.3 358.71H395.9 M627.91 544.8V540.2 M393.3 356.08H397.9 M631.12 544.8V542.2 M393.3 353.5H395.9 M634.26 544.8V542.2 M393.3 350.98H395.9 M637.33 544.8V542.2 M393.3 348.51H395.9 M640.33 544.8V542.2 M393.3 346.09H395.9 M643.28 544.8V542.2 M393.3 343.72H395.9 M646.17 544.8V542.2 M393.3 341.4H395.9 M649 544.8V542.2 M393.3 339.12H395.9 M651.78 544.8V542.2 M393.3 336.89H395.9 M654.5 544.8V540.2 M393.3 334.7H397.9 M657.18 544.8V542.2 M393.3 332.55H395.9 M659.81 544.8V542.2 M393.3 330.43H395.9 M662.39 544.8V542.2 M393.3 328.36H395.9 M664.92 544.8V542.2 M393.3 326.32H395.9 M667.42 544.8V542.2 M393.3 324.32H395.9 M669.87 544.8V542.2 M393.3 322.34H395.9 M672.28 544.8V542.2 M393.3 320.41H395.9 M674.65 544.8V542.2 M393.3 318.5H395.9 " stroke="#222" stroke-width="0.85" fill="none"/>
<text x="388.4" y="549.2" font-family="Liberation Serif, serif" font-size="11" fill="#222" stroke="#222" stroke-width="0.2" text-anchor="end">1</text>
<text x="393.2" y="559.4" font-family="Liberation Serif, serif" font-size="11" fill="#222" stroke="#222" stroke-width="0.2" text-anchor="middle">1</text>
<text x="388.4" y="467.92" font-family="Liberation Serif, serif" font-size="11" fill="#222" stroke="#222" stroke-width="0.2" text-anchor="end">2</text>
<text x="494.29" y="559.4" font-family="Liberation Serif, serif" font-size="11" fill="#222" stroke="#222" stroke-width="0.2" text-anchor="middle">2</text>
<text x="388.4" y="420.38" font-family="Liberation Serif, serif" font-size="11" fill="#222" stroke="#222" stroke-width="0.2" text-anchor="end">3</text>
<text x="553.42" y="559.4" font-family="Liberation Serif, serif" font-size="11" fill="#222" stroke="#222" stroke-width="0.2" text-anchor="middle">3</text>
<text x="388.4" y="386.64" font-family="Liberation Serif, serif" font-size="11" fill="#222" stroke="#222" stroke-width="0.2" text-anchor="end">4</text>
<text x="595.37" y="559.4" font-family="Liberation Serif, serif" font-size="11" fill="#222" stroke="#222" stroke-width="0.2" text-anchor="middle">4</text>
<text x="388.4" y="360.48" font-family="Liberation Serif, serif" font-size="11" fill="#222" stroke="#222" stroke-width="0.2" text-anchor="end">5</text>
<text x="627.91" y="559.4" font-family="Liberation Serif, serif" font-size="11" fill="#222" stroke="#222" stroke-width="0.2" text-anchor="middle">5</text>
<text x="388.4" y="339.1" font-family="Liberation Serif, serif" font-size="11" fill="#222" stroke="#222" stroke-width="0.2" text-anchor="end">6</text>
<text x="654.5" y="559.4" font-family="Liberation Serif, serif" font-size="11" fill="#222" stroke="#222" stroke-width="0.2" text-anchor="middle">6</text>
<text x="388.4" y="321.02" font-family="Liberation Serif, serif" font-size="11" fill="#222" stroke="#222" stroke-width="0.2" text-anchor="end">7</text>
<text x="676.98" y="559.4" font-family="Liberation Serif, serif" font-size="11" fill="#222" stroke="#222" stroke-width="0.2" text-anchor="middle">7</text>
<text x="479.6" y="584.6" font-family="Liberation Serif, serif" font-size="16.2" fill="#111" stroke="#111" stroke-width="0.2">log(&#956;b&#961;<tspan dy="-6" font-size="10.5">1/2</tspan><tspan dy="6">) (GPa)</tspan></text>
<text transform="translate(371.8 471.4) rotate(-90)" font-family="Liberation Serif, serif" font-size="16" fill="#111" stroke="#111" stroke-width="0.2">log(&#963;) (GPa)</text>
<path d="M431.5 535 L661.8 355" stroke="#111" stroke-width="1.15"/>
<circle cx="474" cy="490.2" r="3.45" fill="#1000ff"/>
<circle cx="495.6" cy="474" r="3.45" fill="#1000ff"/>
<circle cx="629" cy="377" r="3.45" fill="#1000ff"/>
<circle cx="633.5" cy="370.4" r="3.45" fill="#1000ff"/>
<circle cx="638.5" cy="351.2" r="3.45" fill="#1000ff"/>
<circle cx="653.4" cy="344.5" r="3.45" fill="#1000ff"/>
<circle cx="661.3" cy="344.1" r="3.45" fill="#1000ff"/>
<circle cx="653.9" cy="351.6" r="3.45" fill="#1000ff"/>
<circle cx="652.9" cy="364.1" r="3.45" fill="#1000ff"/>
<rect x="428.1" y="531.9" width="6.8" height="6.8" fill="#ff1a0a"/>
<rect x="468.1" y="491.3" width="6.8" height="6.8" fill="#ff1a0a"/>
<rect x="494.4" y="470.5" width="6.8" height="6.8" fill="#ff1a0a"/>
<rect x="508" y="462.3" width="6.8" height="6.8" fill="#ff1a0a"/>
<rect x="526.2" y="456.2" width="6.8" height="6.8" fill="#ff1a0a"/>
<rect x="546.6" y="434.6" width="6.8" height="6.8" fill="#ff1a0a"/>
<rect x="545.4" y="440.4" width="6.8" height="6.8" fill="#ff1a0a"/>
<rect x="550.9" y="442.7" width="6.8" height="6.8" fill="#ff1a0a"/>
<rect x="571.3" y="422.9" width="6.8" height="6.8" fill="#ff1a0a"/>
<rect x="576.2" y="415.9" width="6.8" height="6.8" fill="#ff1a0a"/>
<rect x="576.2" y="411.8" width="6.8" height="6.8" fill="#ff1a0a"/>
<rect x="608.5" y="390.1" width="6.8" height="6.8" fill="#ff1a0a"/>
<rect x="627.2" y="373.6" width="6.8" height="6.8" fill="#ff1a0a"/>
<path d="M453 535.7L457.3 542.9L448.7 542.9Z" fill="#40ff10"/>
<path d="M475.2 476.9L479.5 484.1L470.9 484.1Z" fill="#40ff10"/>
<path d="M484.4 491.9L488.7 499.1L480.1 499.1Z" fill="#40ff10"/>
<path d="M570.6 423.2L574.9 430.4L566.3 430.4Z" fill="#40ff10"/>
<path d="M573 429.4L577.3 436.6L568.7 436.6Z" fill="#40ff10"/>
<path d="M579.1 428.2L583.4 435.4L574.8 435.4Z" fill="#40ff10"/>
<path d="M573.3 434.6L577.6 441.8L569 441.8Z" fill="#40ff10"/>
<path d="M589.7 414.2L594 421.4L585.4 421.4Z" fill="#40ff10"/>
<path d="M601 408.9L605.3 416.1L596.7 416.1Z" fill="#40ff10"/>
<path d="M604.8 409.5L609.1 416.7L600.5 416.7Z" fill="#40ff10"/>
<path d="M607.4 401.9L611.7 409.1L603.1 409.1Z" fill="#40ff10"/>
<path d="M608.2 391.4L612.5 398.6L603.9 398.6Z" fill="#40ff10"/>
<path d="M613.2 391.4L617.5 398.6L608.9 398.6Z" fill="#40ff10"/>
<path d="M616.9 393.7L621.2 400.9L612.6 400.9Z" fill="#40ff10"/>
<path d="M634 378.6L638.3 385.8L629.7 385.8Z" fill="#40ff10"/>
<circle cx="421.2" cy="335" r="3.45" fill="#1000ff"/>
<rect x="417.8" y="344.4" width="6.8" height="6.8" fill="#ff1a0a"/>
<path d="M421.2 356.8L425.5 364L416.9 364Z" fill="#40ff10"/>
<text x="436.5" y="337.9" font-family="Liberation Serif, serif" font-size="10.5" fill="#222" stroke="#222" stroke-width="0.15">EAM ternary</text>
<text x="436.5" y="351.4" font-family="Liberation Serif, serif" font-size="10.5" fill="#222" stroke="#222" stroke-width="0.15">EAM quaternary</text>
<text x="436.5" y="364.3" font-family="Liberation Serif, serif" font-size="10.5" fill="#222" stroke="#222" stroke-width="0.15">SNAP quaternary</text>
</svg>
</body></html>
